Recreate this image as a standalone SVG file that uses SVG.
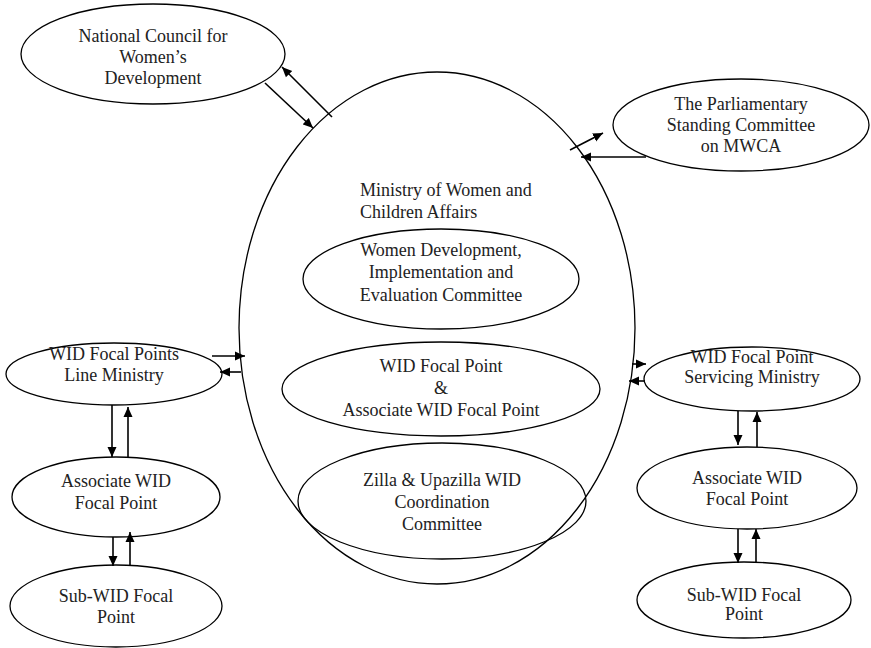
<svg xmlns="http://www.w3.org/2000/svg" width="871" height="648" viewBox="0 0 871 648">
<defs>
<marker id="ah" viewBox="0 0 10 10" refX="10" refY="5" markerWidth="10" markerHeight="10" markerUnits="userSpaceOnUse" orient="auto">
<path d="M0,0.5 L10,5 L0,9.5 z" fill="#000"/>
</marker>
<style>
.n{fill:#fff;stroke:#000;stroke-width:1.3}
.b{fill:none;stroke:#000;stroke-width:1.3}
.t{font-family:"Liberation Serif","Times New Roman",serif;font-size:18px;fill:#222;text-anchor:middle}
.c line{stroke:#000;stroke-width:1.6;marker-end:url(#ah)}
</style>
</defs>
<rect width="871" height="648" fill="#fff"/>
<g id="ministry">
<ellipse class="b" cx="437" cy="328" rx="198" ry="256"/>
<text class="t" style="text-anchor:start" x="360" y="196">Ministry of Women and</text>
<text class="t" style="text-anchor:start" x="360" y="218">Children Affairs</text>
</g>
<g id="wdiec">
<ellipse class="b" cx="441" cy="279" rx="138" ry="50"/>
<text class="t" x="441" y="256">Women Development,</text>
<text class="t" x="441" y="278">Implementation and</text>
<text class="t" x="441" y="301">Evaluation Committee</text>
</g>
<g id="widfp">
<ellipse class="b" cx="441" cy="389" rx="159" ry="47"/>
<text class="t" x="441" y="372">WID Focal Point</text>
<text class="t" x="441" y="394">&amp;</text>
<text class="t" x="441" y="416">Associate WID Focal Point</text>
</g>
<g id="zilla">
<ellipse class="b" cx="442" cy="501" rx="144" ry="58"/>
<text class="t" x="442" y="486">Zilla &amp; Upazilla WID</text>
<text class="t" x="442" y="508">Coordination</text>
<text class="t" x="442" y="530">Committee</text>
</g>
<g id="ncwd">
<ellipse class="n" cx="153" cy="54" rx="132" ry="50"/>
<text class="t" x="153" y="42">National Council for</text>
<text class="t" x="153" y="63">Women’s</text>
<text class="t" x="153" y="84">Development</text>
</g>
<g id="parl">
<ellipse class="n" cx="741" cy="125" rx="128" ry="46"/>
<text class="t" x="741" y="110">The Parliamentary</text>
<text class="t" x="741" y="131">Standing Committee</text>
<text class="t" x="741" y="152">on MWCA</text>
</g>
<g id="line-ministry">
<ellipse class="n" cx="114" cy="374" rx="108" ry="31"/>
<text class="t" x="114" y="360">WID Focal Points</text>
<text class="t" x="114" y="381">Line Ministry</text>
</g>
<g id="assoc-left">
<ellipse class="n" cx="116" cy="497" rx="104" ry="40"/>
<text class="t" x="116" y="487">Associate WID</text>
<text class="t" x="116" y="509">Focal Point</text>
</g>
<g id="sub-left">
<ellipse class="n" cx="116" cy="606" rx="106" ry="41"/>
<text class="t" x="116" y="602">Sub-WID Focal</text>
<text class="t" x="116" y="623">Point</text>
</g>
<g id="servicing-ministry">
<ellipse class="n" cx="752" cy="379" rx="108" ry="32"/>
<text class="t" x="752" y="363">WID Focal Point</text>
<text class="t" x="752" y="383">Servicing Ministry</text>
</g>
<g id="assoc-right">
<ellipse class="n" cx="747" cy="488" rx="110" ry="41"/>
<text class="t" x="747" y="484">Associate WID</text>
<text class="t" x="747" y="505">Focal Point</text>
</g>
<g id="sub-right">
<ellipse class="n" cx="744" cy="600" rx="107" ry="38"/>
<text class="t" x="744" y="601">Sub-WID Focal</text>
<text class="t" x="744" y="620">Point</text>
</g>
<g id="connectors" class="c">
<line x1="265" y1="83" x2="313" y2="128"/>
<line x1="332" y1="117" x2="282" y2="67"/>
<line x1="570" y1="150" x2="603" y2="133"/>
<line x1="646" y1="157" x2="581" y2="157"/>
<line x1="212" y1="356" x2="245" y2="356"/>
<line x1="241" y1="372" x2="220" y2="372"/>
<line x1="632" y1="364" x2="646" y2="364"/>
<line x1="645" y1="381" x2="629" y2="381"/>
<line x1="112" y1="405" x2="112" y2="457"/>
<line x1="128" y1="457" x2="128" y2="407"/>
<line x1="113" y1="537" x2="113" y2="566"/>
<line x1="130" y1="566" x2="130" y2="532"/>
<line x1="738" y1="411" x2="738" y2="445"/>
<line x1="757" y1="447" x2="757" y2="412"/>
<line x1="738" y1="529" x2="738" y2="563"/>
<line x1="756" y1="563" x2="756" y2="529"/>
</g>
</svg>
